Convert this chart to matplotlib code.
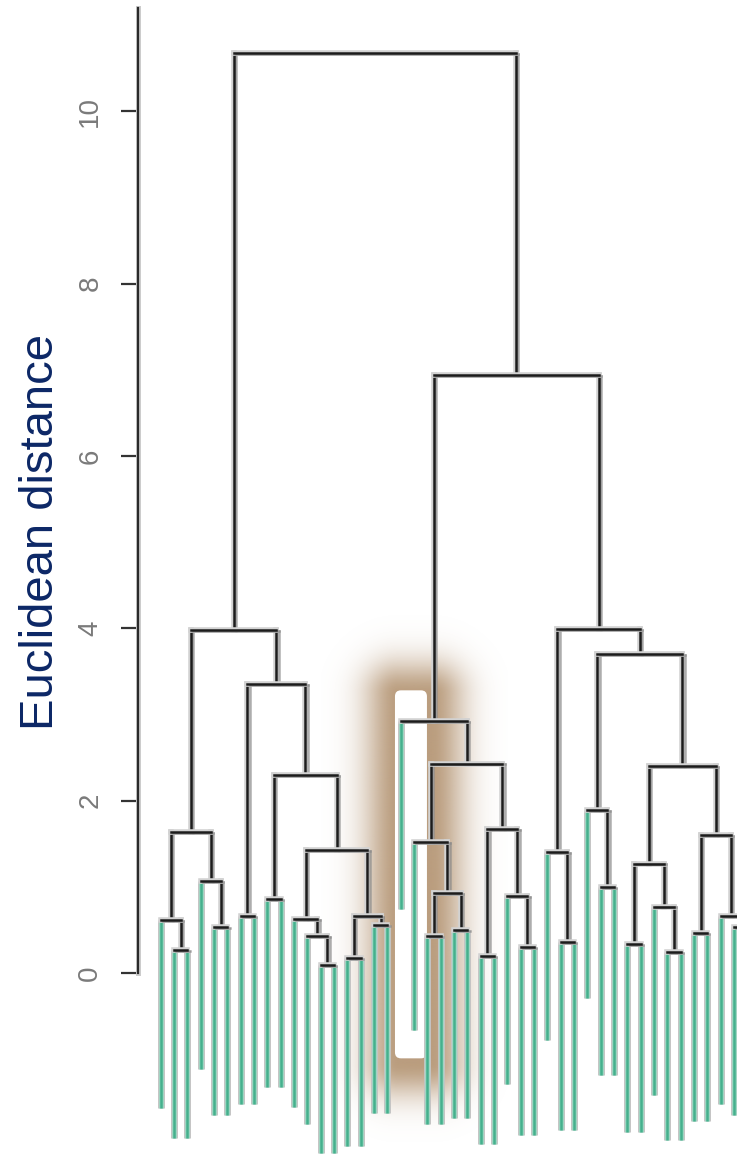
import numpy as np
import matplotlib.pyplot as plt
import matplotlib.patheffects as pe
from matplotlib.patches import FancyBboxPatch

# merge table, hclust style: negative = leaf (display order 1..45), positive = earlier row
merge_left = [-2, -1, -5, -4, 2, -7, -9, -13, -12, -11, -15, -17, 11, 10, 7,
              6, 5, -21, -23, 18, -20, -25, -28, -27, 22, 21, -19, -31, -30, -34,
              -33, -36, -39, -38, 32, -41, -44, -43, 36, 35, 31, 29, 27, 17]
merge_right = [-3, 1, -6, 3, 4, -8, -10, -14, 8, 9, -16, -18, 12, 13, 14,
               15, 16, -22, -24, 19, 20, -26, -29, 23, 24, 25, 26, -32, 28, -35,
               30, -37, -40, 33, 34, -42, -45, 37, 38, 39, 40, 41, 42, 43]
merge_height = [0.27, 0.61, 0.53, 1.07, 1.64, 0.66, 0.86, 0.09, 0.43, 0.63, 0.17, 0.56, 0.66, 1.43, 2.30,
                3.35, 3.98, 0.43, 0.50, 0.93, 1.52, 0.20, 0.30, 0.89, 1.67, 2.43, 2.92, 0.36, 1.40, 1.00,
                1.89, 0.34, 0.24, 0.77, 1.27, 0.46, 0.53, 0.66, 1.60, 2.40, 3.70, 3.99, 6.94, 10.67]
hang = 2.18
yticks = [0, 2, 4, 6, 8, 10]
# highlighted leaves 19-20 (box in data units)
hl_x = (18.57, 20.97)
hl_y = (-0.99, 3.28)

plt.rcParams['font.family'] = ['Liberation Sans', 'DejaVu Sans']

node_x = []


def xpos(k):
    return float(-k) if k < 0 else node_x[k - 1]


for a, b in zip(merge_left, merge_right):
    node_x.append((xpos(a) + xpos(b)) / 2)

fig = plt.figure(figsize=(7.37, 11.54), dpi=100)
ax = fig.add_axes([0, 0, 1, 1])
xlim = (-11.06, 44.23)
ylim = (-2.10, 11.29)

black_fx = [pe.Stroke(linewidth=4.0, foreground='#d2d2d2'),
            pe.SimpleLineShadow(offset=(1.6, -0.6), shadow_color='#8a8a8a', alpha=0.7),
            pe.Normal()]
green_fx = [pe.Stroke(linewidth=5.0, foreground='#c4c4c4'),
            pe.Stroke(linewidth=3.3, foreground='#9ad9c2'),
            pe.Normal()]

for i, (a, b) in enumerate(zip(merge_left, merge_right)):
    h = merge_height[i]
    ax.plot([xpos(a), xpos(b)], [h, h], color='#1c1c1c', lw=1.8,
            solid_capstyle='projecting', zorder=5, path_effects=black_fx)
    for c in (a, b):
        x = xpos(c)
        if c < 0:
            ax.plot([x, x], [h, h - hang], color='#45b08d', lw=1.8,
                    solid_capstyle='butt', zorder=3, path_effects=green_fx)
        else:
            ax.plot([x, x], [h, merge_height[c - 1]], color='#1c1c1c', lw=1.8,
                    solid_capstyle='projecting', zorder=4, path_effects=black_fx)

# brown glow around the highlight box
gx = np.linspace(13.0, 27.0, 560)
gy = np.linspace(-2.1, 5.0, 760)
X, Y = np.meshgrid(gx, gy)
cx0, cx1 = hl_x[0] + 0.25, hl_x[1] + 0.25
cy0, cy1 = hl_y[0] - 0.05, hl_y[1] - 0.05
dx = np.maximum(np.maximum(cx0 - X, X - cx1), 0) / 2.6
dy = np.maximum(np.maximum(cy0 - Y, Y - cy1), 0) / 0.40
glow = np.zeros(X.shape + (4,))
glow[..., 0] = 177 / 255
glow[..., 1] = 144 / 255
glow[..., 2] = 109 / 255
glow[..., 3] = 0.88 * np.exp(-(dx ** 2 + dy ** 2))
ax.imshow(glow, extent=(gx[0], gx[-1], gy[0], gy[-1]), origin='lower',
          aspect='auto', interpolation='bilinear', zorder=1)

box = FancyBboxPatch((hl_x[0], hl_y[0]), hl_x[1] - hl_x[0], hl_y[1] - hl_y[0],
                     boxstyle='round,pad=0,rounding_size=0.45',
                     mutation_aspect=13.33 / 86.2,
                     facecolor='white', edgecolor='none', zorder=2)
ax.add_patch(box)

ax.set_xlim(*xlim)
ax.set_ylim(*ylim)

for s in ('top', 'right', 'bottom'):
    ax.spines[s].set_visible(False)
ax.spines['left'].set_position(('axes', 138 / 737))
ax.spines['left'].set_bounds(0, 11.2)
ax.spines['left'].set_linewidth(1.6)
ax.spines['left'].set_color('#2a2a2a')
ax.spines['left'].set_path_effects([pe.Stroke(linewidth=3.6, foreground='#cccccc'), pe.Normal()])
ax.set_xticks([])
ax.set_yticks(yticks)
ax.set_yticklabels([str(t) for t in yticks])
ax.tick_params(axis='y', length=12, width=1.6, color='#333333', pad=13,
               labelsize=20, labelcolor='#7a7a7a', labelrotation=90)
for t in ax.get_yticklabels():
    t.set_va('center')

ax.set_ylabel('Euclidean distance', fontsize=34, color='#0c2766')
ax.yaxis.set_label_coords(0.085, 0.5394)

fig.savefig('out.png', dpi=100)
